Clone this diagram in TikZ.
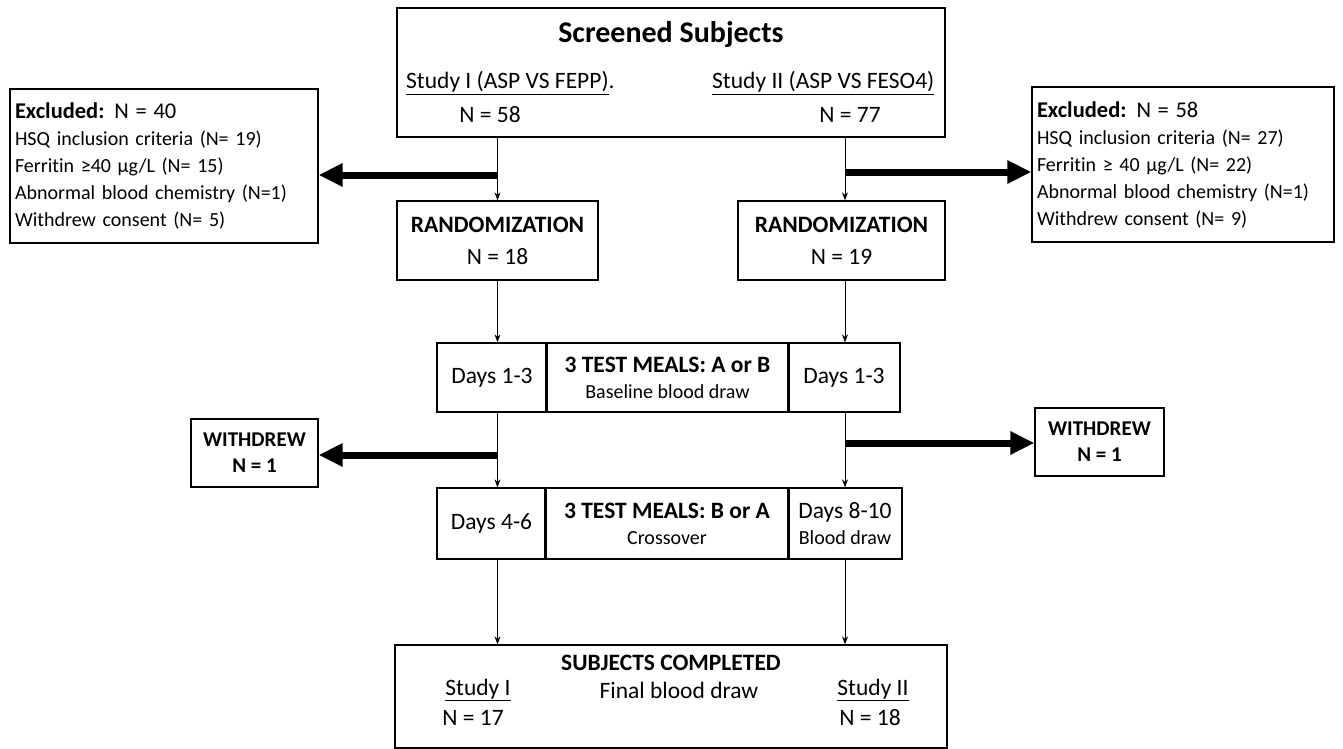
\documentclass[tikz,border=0pt]{standalone}
\usepackage{fontspec}
\setmainfont{Carlito}[Ligatures=NoCommon]
\usetikzlibrary{arrows.meta,positioning,calc}

\begin{document}
\begin{tikzpicture}[x=1pt, y=-1pt,
  every node/.style={font=\fontsize{23.5}{28}\selectfont, inner sep=0pt},
  box/.style={draw, line width=1.3pt},
  cell/.style={box, minimum height=69pt, align=center},
  small/.style={font=\fontsize{20}{27}\selectfont},
  thinarrow/.style={-{Stealth[length=8pt,width=6pt]}, line width=0.9pt},
  fatarrow/.style={-{Triangle[length=24pt,width=22pt]}, line width=7pt},
]
\useasboundingbox (0,0) rectangle (1343,749);

% Screened subjects
\node[box, minimum width=548pt, minimum height=129pt] (scr) at (671,72.5) {};
\node[font=\fontsize{30}{34}\selectfont\bfseries] (scrT) at (671,35) {Screened Subjects};
\node[anchor=west] (st1) at (406,83) {\underline{Study I (ASP VS FEPP)}.};
\node[anchor=west] (st2) at (712,83) {\underline{Study II (ASP VS FESO4)}};
\node (n58) at (490,115) {N = 58};
\node (n77) at (850,115) {N = 77};

% Exclusions
\node[box, small, minimum width=308pt, minimum height=154pt, text width=298pt,
      inner xsep=5pt, align=left] (ex1) at (164,166)
  {{\fontsize{22.5}{27}\selectfont\textbf{Excluded:} N = 40}\\
   HSQ inclusion criteria (N= 19)\\
   Ferritin ≥40 µg/L (N= 15)\\
   Abnormal blood chemistry (N=1)\\
   Withdrew consent (N= 5)};
\node[box, small, minimum width=302pt, minimum height=155pt, text width=292pt,
      inner xsep=5pt, align=left] (ex2) at (1183,164.5)
  {{\fontsize{22.5}{27}\selectfont\textbf{Excluded:} N = 58}\\
   HSQ inclusion criteria (N= 27)\\
   Ferritin ≥ 40 µg/L (N= 22)\\
   Abnormal blood chemistry (N=1)\\
   Withdrew consent (N= 9)};

% Randomization
\node[box, minimum width=201pt, minimum height=79pt, align=center] (rnd1) at (497.5,240.5)
  {\textbf{RANDOMIZATION}\\[4pt] N = 18};
\node[box, minimum width=207pt, minimum height=79pt, align=center] (rnd2) at (841.5,240.5)
  {\textbf{RANDOMIZATION}\\[4pt] N = 19};

% Test meals, first period
\node[cell, minimum width=110pt] (d13a) at (492,377.5) {Days 1-3};
\node[cell, minimum width=241pt] (meal1) at (667.5,377.5)
  {\textbf{3 TEST MEALS: A or B}\\[-2pt] {\fontsize{20}{24}\selectfont Baseline blood draw}};
\node[cell, minimum width=112pt] (d13b) at (844,377.5) {Days 1-3};

% Test meals, crossover
\node[cell, minimum width=109pt, minimum height=71pt] (d46) at (491.5,523.5) {Days 4-6};
\node[cell, minimum width=242pt, minimum height=71pt] (meal2) at (667,523.5)
  {\textbf{3 TEST MEALS: B or A}\\[-2pt] {\fontsize{20}{24}\selectfont Crossover}};
\node[cell, minimum width=114pt, minimum height=71pt] (d810) at (845,523.5)
  {Days 8-10\\[-2pt] {\fontsize{20}{24}\selectfont Blood draw}};
\foreach \c in {meal1,meal2}
  \draw[line width=2.4pt] (\c.north west) -- (\c.south west)
                          (\c.north east) -- (\c.south east);

% Withdrawals
\node[box, minimum width=127pt, minimum height=68pt, align=center,
      font=\fontsize{21}{26}\selectfont\bfseries] (wd1) at (254.5,453)
  {WITHDREW\\ N = 1};
\node[box, minimum width=129pt, minimum height=68pt, align=center,
      font=\fontsize{21}{26}\selectfont\bfseries] (wd2) at (1099.5,442)
  {WITHDREW\\ N = 1};

% Completed
\node[box, minimum width=552pt, minimum height=103pt] (fin) at (671,696.5) {};
\node[font=\fontsize{23.5}{28}\selectfont\bfseries] (finT) at (671,663) {SUBJECTS COMPLETED};
\node (fs1) at (478,690) {\underline{Study I}};
\node (fbd) at (679,690) {Final blood draw};
\node (fs2) at (873,690) {\underline{Study II}};
\node (n17) at (473,718) {N = 17};
\node (n18) at (870,718) {N = 18};

% flow lines
\coordinate (colL) at (497.5,0);
\coordinate (colR) at (845,0);
\draw[thinarrow] (colL |- scr.south) -- (rnd1.north);
\draw[thinarrow] (colR |- scr.south) -- (colR |- rnd2.north);
\draw[thinarrow] (rnd1.south) -- (colL |- d13a.north);
\draw[thinarrow] (colR |- rnd2.south) -- (colR |- d13b.north);
\draw[thinarrow] (colL |- d13a.south) -- (colL |- d46.north);
\draw[thinarrow] (colR |- d13b.south) -- (colR |- d810.north);
\draw[thinarrow] (colL |- d46.south) -- (colL |- fin.north);
\draw[thinarrow] (colR |- d810.south) -- (colR |- fin.north);

% exclusion and withdrawal arrows
\coordinate (xL) at (497.5,175);
\coordinate (xR) at (845,172);
\coordinate (wL) at (497.5,455);
\coordinate (wR) at (845,443);
\draw[fatarrow] (xL) -- (xL -| ex1.east);
\draw[fatarrow] (xR) -- (xR -| ex2.west);
\draw[fatarrow] (wL) -- (wL -| wd1.east);
\draw[fatarrow] (wR) -- (wR -| wd2.west);
\end{tikzpicture}
\end{document}
